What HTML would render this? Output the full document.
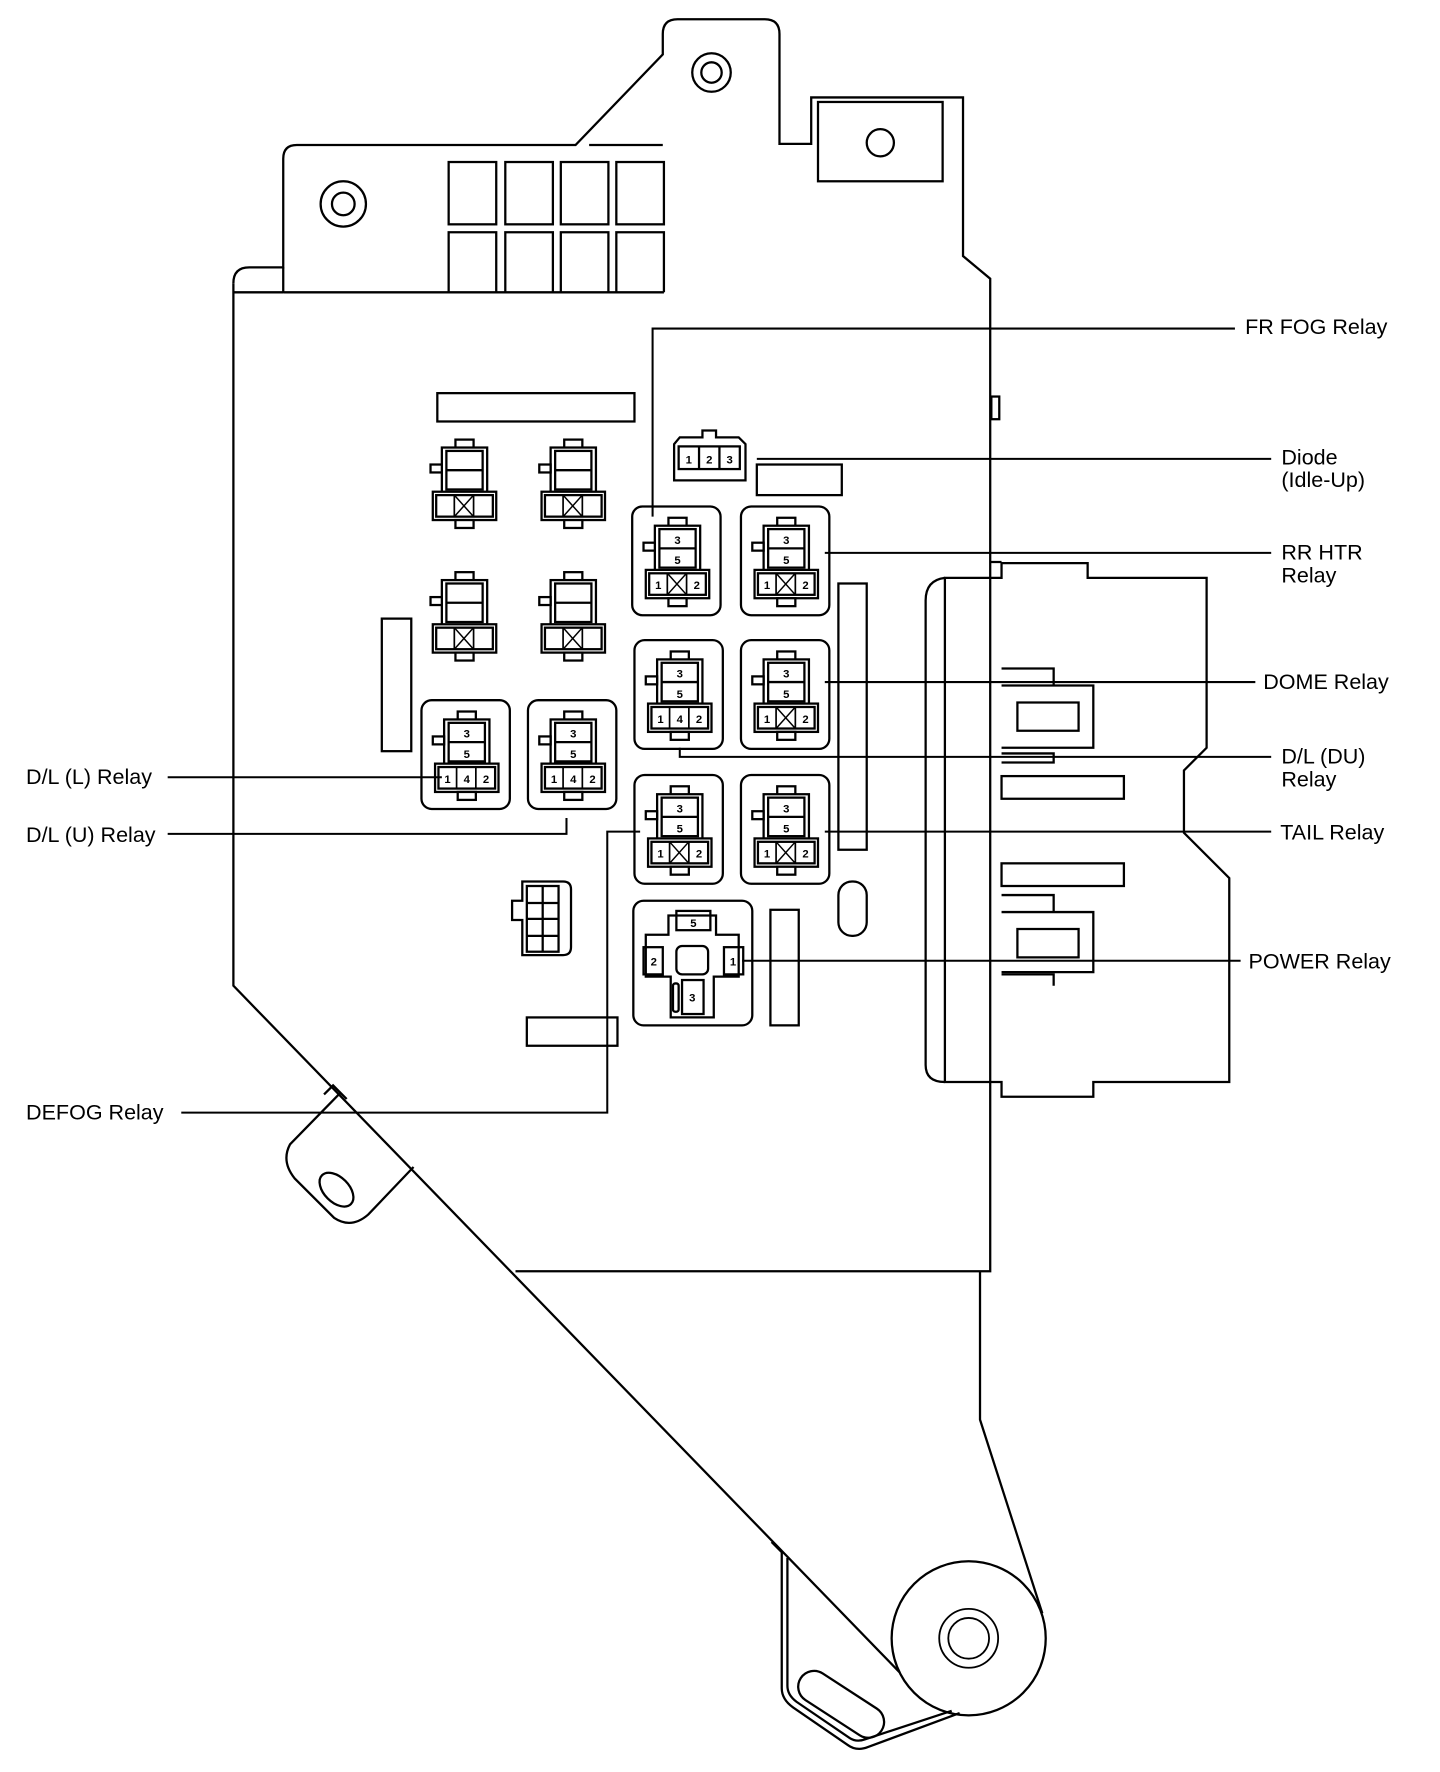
<!DOCTYPE html>
<html><head><meta charset="utf-8"><style>
html,body{margin:0;padding:0;background:#fff}
svg{display:block}
text{font-family:"Liberation Sans",Arial,sans-serif;fill:#000}
.lb{font-size:19px}
.n{font-size:10px;font-weight:bold;text-anchor:middle}
</style></head><body>
<svg width="1440" height="1772" viewBox="0 0 1271 1564" preserveAspectRatio="none" xmlns="http://www.w3.org/2000/svg">
<defs>
<g id="conn">
<rect x="32" y="10" width="16" height="8" fill="#fff" stroke="#000" stroke-width="2"/>
<rect x="20" y="17" width="40" height="40" fill="#fff" stroke="#000" stroke-width="2"/>
<rect x="24" y="20" width="32" height="34" fill="none" stroke="#000" stroke-width="2"/>
<line x1="24" y1="37" x2="56" y2="37" stroke="#000" stroke-width="2"/>
<rect x="12" y="56" width="56" height="25" fill="#fff" stroke="#000" stroke-width="2"/>
<rect x="15" y="59" width="50" height="19" fill="none" stroke="#000" stroke-width="2"/>
<line x1="31" y1="59" x2="31" y2="78" stroke="#000" stroke-width="1.5"/>
<line x1="48" y1="59" x2="48" y2="78" stroke="#000" stroke-width="1.5"/>
<rect x="32" y="81" width="16" height="7" fill="#fff" stroke="#000" stroke-width="2"/>
<rect x="10" y="32" width="10" height="7" fill="#fff" stroke="#000" stroke-width="2"/>
</g>
<g id="x"><line x1="31" y1="59" x2="48" y2="78" stroke="#000" stroke-width="1.3"/><line x1="48" y1="59" x2="31" y2="78" stroke="#000" stroke-width="1.3"/></g>
<g id="box"><rect x="0" y="0" width="78" height="96" rx="9" fill="#fff" stroke="#000" stroke-width="2"/></g>
</defs>
<g fill="none" stroke="#000" stroke-width="2">
<!-- housing -->
<path d="M206,250 Q206,236 220,236 L250,236 L250,140 Q250,128 262,128 L508,128 L585,48 L585,30 Q585,17 598,17 L675,17 Q688,17 688,30 L688,127 L716,127 L716,86 L850,86 L850,226 L862,236 L874,246 L874,496 L884,496 M874,496 L874,1122 L865,1122 L455,1122"/>
<path d="M206,250 L206,870 L794,1476"/>
<path d="M681,1361 L690,1370 L690,1490 Q690,1500 700,1507 L748,1540 Q756,1546 766,1542 L847,1512"/>
<path d="M695,1375 L695,1488 Q695,1496 703,1502 L750,1534 Q756,1538 764,1535 L840,1510"/>
<path d="M865,1122 L865,1253 L920,1424"/>
<circle cx="855" cy="1446" r="68"/>
<circle cx="855" cy="1446" r="26" stroke-width="1.6"/><circle cx="855" cy="1446" r="18" stroke-width="1.6"/>
<rect x="700" y="1490" width="85" height="28" rx="14" transform="rotate(33 742 1504)"/>
<path d="M300,965 L256,1010 Q248,1025 260,1040 L295,1075 Q310,1085 325,1072 L365,1030"/>
<ellipse cx="297" cy="1050" rx="18" ry="11" transform="rotate(45 297 1050)"/>
<path d="M286,966 L294,958 L306,970"/>
<circle cx="628" cy="64" r="17"/><circle cx="628" cy="64" r="9"/>
<circle cx="303" cy="180" r="20"/><circle cx="303" cy="180" r="10"/>
<rect x="722" y="90" width="110" height="70"/>
<circle cx="777" cy="126" r="12"/>
<line x1="520" y1="128" x2="585" y2="128"/>
<!-- vents -->
<rect x="396" y="143" width="42" height="55"/><rect x="446" y="143" width="42" height="55"/><rect x="495" y="143" width="42" height="55"/><rect x="544" y="143" width="42" height="55"/>
<path d="M396,258 L396,205 L438,205 L438,258 M446,258 L446,205 L488,205 L488,258 M495,258 L495,205 L537,205 L537,258 M544,258 L544,205 L586,205 L586,258"/>
<path d="M206,258 L250,258 M250,236 L250,258 M586,258 L250,258"/>
<!-- misc rects -->
<rect x="386" y="347" width="174" height="25"/>
<rect x="668" y="410" width="75" height="27"/>
<rect x="337" y="546" width="26" height="117"/>
<rect x="740" y="515" width="25" height="235"/>
<rect x="680" y="803" width="25" height="102"/>
<rect x="465" y="898" width="80" height="25"/>
<rect x="740" y="778" width="25" height="48" rx="12"/>
<rect x="875" y="350" width="7" height="20"/>
<!-- big right connector -->
<path d="M884,496 L884,510 L834,510 L834,955 L884,955 L884,968 L965,968 L965,955 L1085,955 L1085,775 L1045,735 L1045,680 L1065,660 L1065,510 L960,510 L960,497 L884,497"/>
<path d="M834,510 Q817,512 817,530 L817,940 Q817,955 834,955"/>
<rect x="884" y="685" width="108" height="20"/>
<rect x="884" y="762" width="108" height="20"/>
<path d="M884,605 L965,605 L965,660 L884,660 M898,620 L952,620 L952,645 L898,645 Z"/>
<path d="M884,805 L965,805 L965,858 L884,858 M898,820 L952,820 L952,845 L898,845 Z"/>
<path d="M884,590 L930,590 L930,605 M884,665 L930,665 L930,673 L884,673 M884,790 L930,790 L930,805 M884,860 L930,860 L930,870"/>
<!-- diode -->
<path d="M595,392 L595,424 L658,424 L658,392 L652,386 L632,386 L632,380 L620,380 L620,386 L600,386 Z"/>
<rect x="599" y="394" width="54" height="20"/>
<line x1="617" y1="394" x2="617" y2="414"/><line x1="635" y1="394" x2="635" y2="414"/>
<!-- power relay -->
<rect x="559" y="795" width="105" height="110" rx="9"/>
<path d="M590,808 L590,825 L570,825 L570,862 L592,862 L592,898 L630,898 L630,862 L652,862 L652,825 L632,825 L632,808 Z"/>
<rect x="597" y="804" width="30" height="17"/>
<rect x="568" y="836" width="17" height="24"/>
<rect x="639" y="836" width="17" height="24"/>
<rect x="602" y="865" width="19" height="30"/>
<rect x="597" y="835" width="28" height="25" rx="5"/>
<rect x="594" y="868" width="5" height="25" rx="2"/>
<!-- small 4-way connector -->
<path d="M461,778 L497,778 Q504,778 504,785 L504,836 Q504,843 497,843 L461,843 L461,812 L452,812 L452,795 L461,795 Z"/>
<rect x="465" y="782" width="28" height="58"/>
<line x1="479" y1="782" x2="479" y2="840"/>
<line x1="465" y1="797" x2="493" y2="797"/><line x1="465" y1="811" x2="493" y2="811"/><line x1="465" y1="826" x2="493" y2="826"/>
</g>
<!-- unlabeled connectors -->
<g transform="translate(370,378)"><use href="#conn"/><use href="#x"/></g>
<g transform="translate(466,378)"><use href="#conn"/><use href="#x"/></g>
<g transform="translate(370,495)"><use href="#conn"/><use href="#x"/></g>
<g transform="translate(466,495)"><use href="#conn"/><use href="#x"/></g>
<!-- relays -->
<g transform="translate(558,447)"><use href="#box"/><use href="#conn"/><use href="#x"/><text class="n" x="40" y="33">3</text><text class="n" x="40" y="51">5</text><text class="n" x="23" y="73">1</text><text class="n" x="57" y="73">2</text></g>
<g transform="translate(654,447)"><use href="#box"/><use href="#conn"/><use href="#x"/><text class="n" x="40" y="33">3</text><text class="n" x="40" y="51">5</text><text class="n" x="23" y="73">1</text><text class="n" x="57" y="73">2</text></g>
<g transform="translate(560,565)"><use href="#box"/><use href="#conn"/><text class="n" x="40" y="33">3</text><text class="n" x="40" y="51">5</text><text class="n" x="23" y="73">1</text><text class="n" x="40" y="73">4</text><text class="n" x="57" y="73">2</text></g>
<g transform="translate(654,565)"><use href="#box"/><use href="#conn"/><use href="#x"/><text class="n" x="40" y="33">3</text><text class="n" x="40" y="51">5</text><text class="n" x="23" y="73">1</text><text class="n" x="57" y="73">2</text></g>
<g transform="translate(560,684)"><use href="#box"/><use href="#conn"/><use href="#x"/><text class="n" x="40" y="33">3</text><text class="n" x="40" y="51">5</text><text class="n" x="23" y="73">1</text><text class="n" x="57" y="73">2</text></g>
<g transform="translate(654,684)"><use href="#box"/><use href="#conn"/><use href="#x"/><text class="n" x="40" y="33">3</text><text class="n" x="40" y="51">5</text><text class="n" x="23" y="73">1</text><text class="n" x="57" y="73">2</text></g>
<g transform="translate(372,618)"><use href="#box"/><use href="#conn"/><text class="n" x="40" y="33">3</text><text class="n" x="40" y="51">5</text><text class="n" x="23" y="73">1</text><text class="n" x="40" y="73">4</text><text class="n" x="57" y="73">2</text></g>
<g transform="translate(466,618)"><use href="#box"/><use href="#conn"/><text class="n" x="40" y="33">3</text><text class="n" x="40" y="51">5</text><text class="n" x="23" y="73">1</text><text class="n" x="40" y="73">4</text><text class="n" x="57" y="73">2</text></g>
<text class="n" x="612" y="818">5</text><text class="n" x="577" y="852">2</text><text class="n" x="647" y="852">1</text><text class="n" x="611" y="884">3</text>
<text class="n" x="608" y="409">1</text><text class="n" x="626" y="409">2</text><text class="n" x="644" y="409">3</text>
<!-- leaders -->
<g fill="none" stroke="#000" stroke-width="1.8">
<path d="M576,456 L576,290 L1090,290"/>
<path d="M668,405 L1122,405"/>
<path d="M728,488 L1122,488"/>
<path d="M728,602 L1108,602"/>
<path d="M600,660 L600,668 L1122,668"/>
<path d="M728,734 L1122,734"/>
<path d="M655,848 L1095,848"/>
<path d="M565,734 L536,734 L536,982 L160,982"/>
<path d="M148,686 L390,686"/>
<path d="M148,736 L500,736 L500,722"/>
</g>
<text class="lb" x="1099" y="295">FR FOG Relay</text>
<text class="lb" x="1131" y="410">Diode</text><text class="lb" x="1131" y="430">(Idle-Up)</text>
<text class="lb" x="1131" y="494">RR HTR</text><text class="lb" x="1131" y="514">Relay</text>
<text class="lb" x="1115" y="608">DOME Relay</text>
<text class="lb" x="1131" y="674">D/L (DU)</text><text class="lb" x="1131" y="694">Relay</text>
<text class="lb" x="1130" y="741">TAIL Relay</text>
<text class="lb" x="1102" y="855">POWER Relay</text>
<text class="lb" x="23" y="988">DEFOG Relay</text>
<text class="lb" x="23" y="692">D/L (L) Relay</text>
<text class="lb" x="23" y="743">D/L (U) Relay</text>
</svg>
</body></html>
